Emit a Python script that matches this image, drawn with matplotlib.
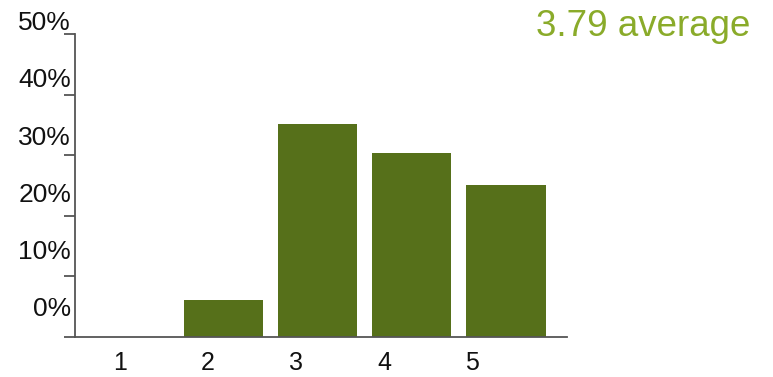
import matplotlib.pyplot as plt
from matplotlib.transforms import blended_transform_factory

# Rating distribution (share of responses, %)
ratings = [1, 2, 3, 4, 5]
shares = [0.0, 6.1, 35.1, 30.4, 25.1]
average = 3.79
y_ticks = [0, 10, 20, 30, 40, 50]

bar_color = '#56701a'
accent = '#8aab2a'
axis_color = '#555555'

plt.rcParams['font.family'] = ['Liberation Sans', 'DejaVu Sans']

W, H = 773, 377
fig = plt.figure(figsize=(W / 100, H / 100), dpi=100)
# plot area in pixels: x 75..567, y 34..337
ax = fig.add_axes([75 / W, 1 - 337 / H, (567 - 75) / W, (337 - 34) / H])

ax.bar(ratings, shares, width=0.84, color=bar_color)

ax.set_xlim(0.427, 5.647)
ax.set_ylim(0, 50)

for side in ('top', 'right'):
    ax.spines[side].set_visible(False)
for side in ('left', 'bottom'):
    ax.spines[side].set_color(axis_color)
    ax.spines[side].set_linewidth(1.3)

ax.set_yticks(y_ticks)
ax.set_yticklabels([])
ax.tick_params(axis='y', direction='out', length=8, width=1.3, color=axis_color)
ax.set_xticks([])

# y labels sit a little above their ticks, on a slightly tighter spacing
ytr = blended_transform_factory(ax.transAxes, ax.transData)
for v in y_ticks:
    ax.text(-4 / (567 - 75), 4.6 + v * 0.944, f'{v}%', transform=ytr,
            ha='right', va='center', fontsize=19, color='#111111', clip_on=False)

# x labels drift left of the bar centres
xtr = blended_transform_factory(ax.transData, ax.transAxes)
for i, r in enumerate(ratings):
    ax.text(0.904 + i * 0.934, -26 / (337 - 34), str(r), transform=xtr,
            ha='center', va='center', fontsize=18, color='#111111', clip_on=False)

fig.text(750 / W, 1 - 26 / H, f'{average:.2f} average', ha='right', va='center',
         fontsize=26.5, color=accent)

fig.savefig('out.png', dpi=100)
